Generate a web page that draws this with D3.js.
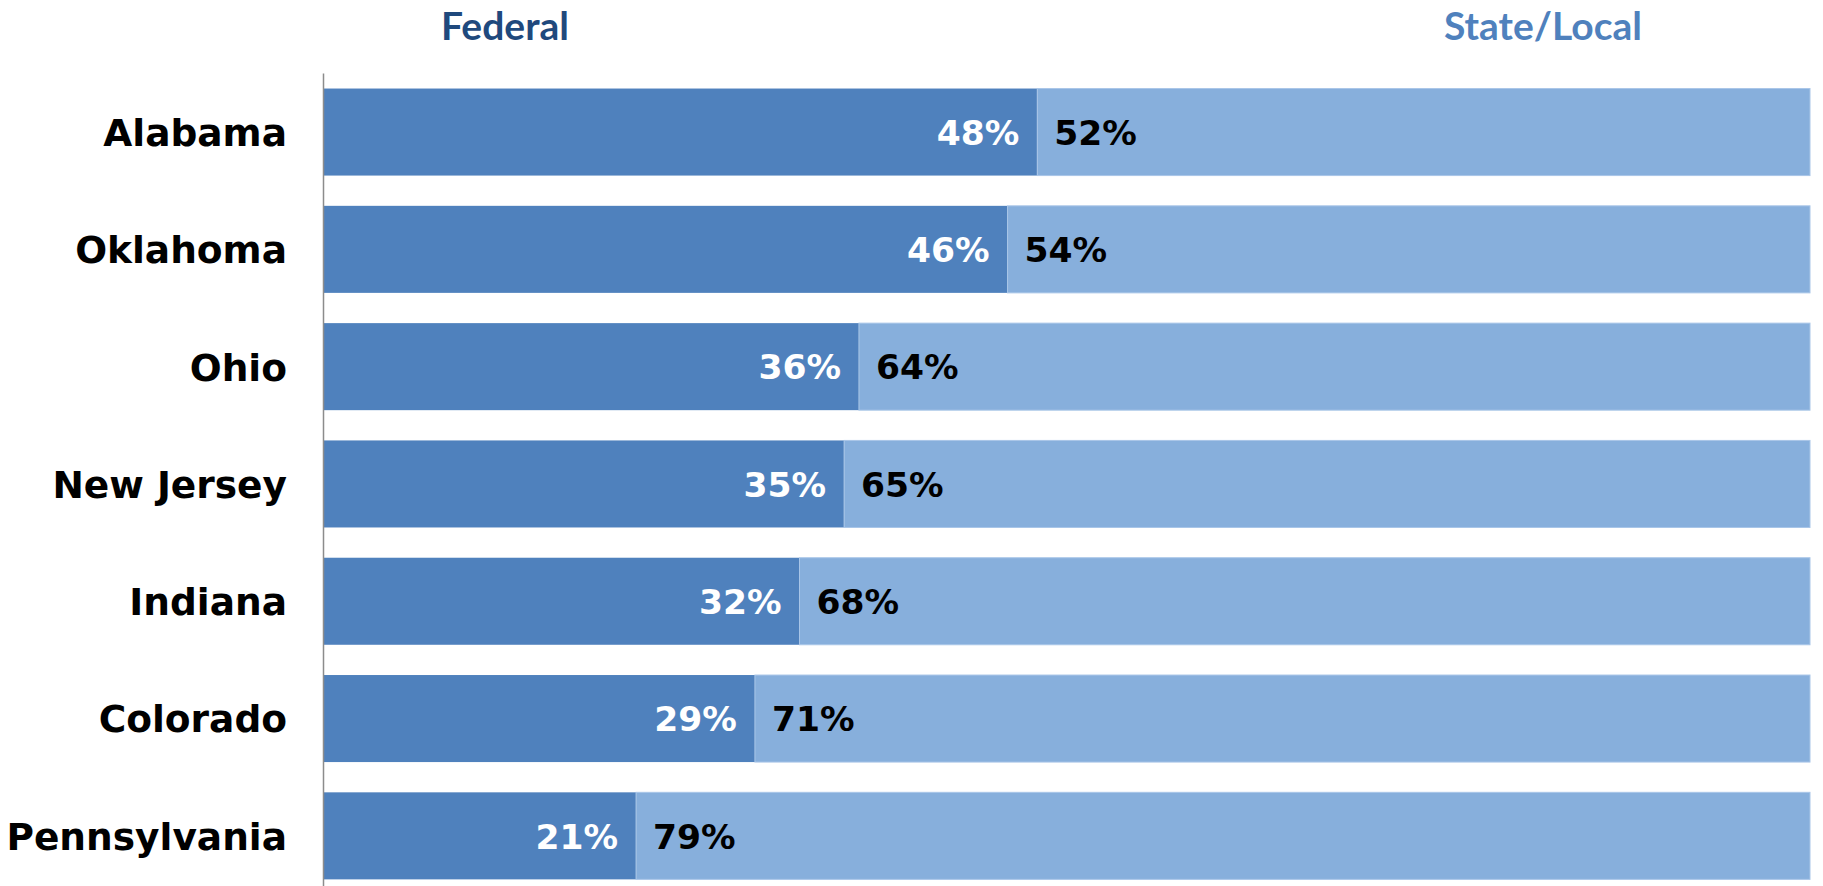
<!DOCTYPE html>
<html>
<head>
<meta charset="utf-8">
<script src="https://cdn.jsdelivr.net/npm/d3@7"></script>
<style>
  html, body { margin: 0; padding: 0; background: #ffffff; }
  svg { display: block; }
</style>
</head>
<body>
<svg id="chart" width="1823" height="886"></svg>
<script>
// Share of funding by source, per state (percent)
const states = ["Alabama", "Oklahoma", "Ohio", "New Jersey", "Indiana", "Colorado", "Pennsylvania"];
const federal = [48, 46, 36, 35, 32, 29, 21];
const stateLocal = [52, 54, 64, 65, 68, 71, 79];
const seriesNames = ["Federal", "State/Local"];

const colors = {
  federal: "#4F81BD",
  stateLocal: "#87AFDC",
  federalHead: "#1F497D",
  stateLocalHead: "#4F81BD",
  axis: "#8C8C8C"
};

const svg = d3.select("#chart");

const x = d3.scaleLinear().domain([0, 100]).range([324, 1810]);
const y = d3.scaleBand()
  .domain(states)
  .range([73.4, 73.4 + 7 * 117.3])
  .paddingInner(0.258)
  .paddingOuter(0.129);

const rows = states.map((s, i) => ({ state: s, fed: federal[i], sl: stateLocal[i] }));

// Bars: federal segment from 0, state/local stacked after it
const g = svg.append("g");
g.selectAll("rect.fed").data(rows).join("rect")
  .attr("class", "fed")
  .attr("x", x(0))
  .attr("y", d => y(d.state))
  .attr("width", d => x(d.fed) - x(0))
  .attr("height", y.bandwidth())
  .attr("fill", colors.federal);

g.selectAll("rect.sl").data(rows).join("rect")
  .attr("class", "sl")
  .attr("x", d => x(d.fed))
  .attr("y", d => y(d.state))
  .attr("width", d => x(d.fed + d.sl) - x(d.fed))
  .attr("height", y.bandwidth())
  .attr("fill", colors.stateLocal)
  .attr("stroke", "#A9C6E8")
  .attr("stroke-width", 1);

// Category axis line
svg.append("line")
  .attr("x1", 323.5).attr("x2", 323.5)
  .attr("y1", y.range()[0]).attr("y2", y.range()[1])
  .attr("stroke", colors.axis)
  .attr("stroke-width", 1.5);

// Category labels
svg.selectAll("text.cat").data(rows).join("text")
  .attr("class", "cat")
  .attr("x", 287)
  .attr("y", d => y(d.state) + y.bandwidth() / 2)
  .attr("dy", "0.37em")
  .attr("text-anchor", "end")
  .attr("font-family", "'DejaVu Sans', Verdana, sans-serif")
  .attr("font-weight", "bold")
  .attr("font-size", 37.5)
  .attr("fill", "#000")
  .text(d => d.state);

// Value labels
const fmt = v => v + "%";
svg.selectAll("text.fedlab").data(rows).join("text")
  .attr("class", "fedlab")
  .attr("x", d => x(d.fed) - 18)
  .attr("y", d => y(d.state) + y.bandwidth() / 2)
  .attr("dy", "0.37em")
  .attr("text-anchor", "end")
  .attr("font-family", "'DejaVu Sans', Verdana, sans-serif")
  .attr("font-weight", "bold")
  .attr("font-size", 34.5)
  .attr("fill", "#ffffff")
  .text(d => fmt(d.fed));

svg.selectAll("text.sllab").data(rows).join("text")
  .attr("class", "sllab")
  .attr("x", d => x(d.fed) + 17)
  .attr("y", d => y(d.state) + y.bandwidth() / 2)
  .attr("dy", "0.37em")
  .attr("text-anchor", "start")
  .attr("font-family", "'DejaVu Sans', Verdana, sans-serif")
  .attr("font-weight", "bold")
  .attr("font-size", 34.5)
  .attr("fill", "#000000")
  .text(d => fmt(d.sl));

// Series headers
svg.append("text")
  .attr("x", 505).attr("y", 40)
  .attr("text-anchor", "middle")
  .attr("font-family", "Lato, 'Open Sans', sans-serif")
  .attr("font-weight", "bold")
  .attr("font-size", 39)
  .attr("fill", colors.federalHead)
  .text(seriesNames[0]);

svg.append("text")
  .attr("x", 1543).attr("y", 40)
  .attr("text-anchor", "middle")
  .attr("font-family", "Lato, 'Open Sans', sans-serif")
  .attr("font-weight", "bold")
  .attr("font-size", 39)
  .attr("fill", colors.stateLocalHead)
  .text(seriesNames[1]);
</script>
</body>
</html>
